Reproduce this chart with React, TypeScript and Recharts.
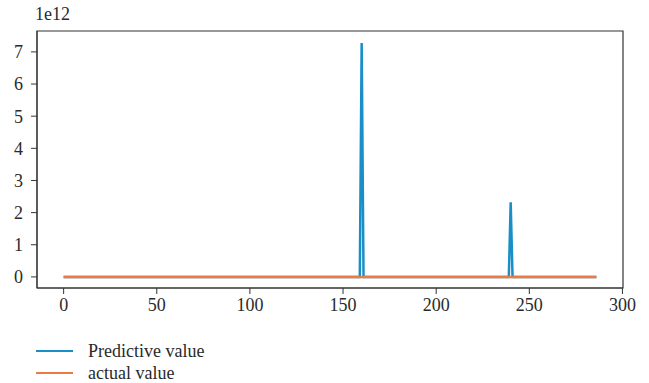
import React from "react";
import { LineChart, Line, XAxis, YAxis, ReferenceArea } from "recharts";

// Predictive values (index 0..286) (units: raw values)
const predictive: number[] = [
  0, 0, 0, 0, 0, 0, 0, 0, 0, 0, 0, 0, 0, 0, 0, 0, 0, 0, 0, 0,
  0, 0, 0, 0, 0, 0, 0, 0, 0, 0, 0, 0, 0, 0, 0, 0, 0, 0, 0, 0,
  0, 0, 0, 0, 0, 0, 0, 0, 0, 0, 0, 0, 0, 0, 0, 0, 0, 0, 0, 0,
  0, 0, 0, 0, 0, 0, 0, 0, 0, 0, 0, 0, 0, 0, 0, 0, 0, 0, 0, 0,
  0, 0, 0, 0, 0, 0, 0, 0, 0, 0, 0, 0, 0, 0, 0, 0, 0, 0, 0, 0,
  0, 0, 0, 0, 0, 0, 0, 0, 0, 0, 0, 0, 0, 0, 0, 0, 0, 0, 0, 0,
  0, 0, 0, 0, 0, 0, 0, 0, 0, 0, 0, 0, 0, 0, 0, 0, 0, 0, 0, 0,
  0, 0, 0, 0, 0, 0, 0, 0, 0, 0, 0, 0, 0, 0, 0, 0, 0, 0, 0, 0,
  7.28e12, 0, 0, 0, 0, 0, 0, 0, 0, 0, 0, 0, 0, 0, 0, 0, 0, 0, 0, 0,
  0, 0, 0, 0, 0, 0, 0, 0, 0, 0, 0, 0, 0, 0, 0, 0, 0, 0, 0, 0,
  0, 0, 0, 0, 0, 0, 0, 0, 0, 0, 0, 0, 0, 0, 0, 0, 0, 0, 0, 0,
  0, 0, 0, 0, 0, 0, 0, 0, 0, 0, 0, 0, 0, 0, 0, 0, 0, 0, 0, 0,
  2.32e12, 0, 0, 0, 0, 0, 0, 0, 0, 0, 0, 0, 0, 0, 0, 0, 0, 0, 0, 0,
  0, 0, 0, 0, 0, 0, 0, 0, 0, 0, 0, 0, 0, 0, 0, 0, 0, 0, 0, 0,
  0, 0, 0, 0, 0, 0, 0,
];

// Actual values (index 0..286) — flat at ~0 on this scale
const actual: number[] = [
  0, 0, 0, 0, 0, 0, 0, 0, 0, 0, 0, 0, 0, 0, 0, 0, 0, 0, 0, 0,
  0, 0, 0, 0, 0, 0, 0, 0, 0, 0, 0, 0, 0, 0, 0, 0, 0, 0, 0, 0,
  0, 0, 0, 0, 0, 0, 0, 0, 0, 0, 0, 0, 0, 0, 0, 0, 0, 0, 0, 0,
  0, 0, 0, 0, 0, 0, 0, 0, 0, 0, 0, 0, 0, 0, 0, 0, 0, 0, 0, 0,
  0, 0, 0, 0, 0, 0, 0, 0, 0, 0, 0, 0, 0, 0, 0, 0, 0, 0, 0, 0,
  0, 0, 0, 0, 0, 0, 0, 0, 0, 0, 0, 0, 0, 0, 0, 0, 0, 0, 0, 0,
  0, 0, 0, 0, 0, 0, 0, 0, 0, 0, 0, 0, 0, 0, 0, 0, 0, 0, 0, 0,
  0, 0, 0, 0, 0, 0, 0, 0, 0, 0, 0, 0, 0, 0, 0, 0, 0, 0, 0, 0,
  0, 0, 0, 0, 0, 0, 0, 0, 0, 0, 0, 0, 0, 0, 0, 0, 0, 0, 0, 0,
  0, 0, 0, 0, 0, 0, 0, 0, 0, 0, 0, 0, 0, 0, 0, 0, 0, 0, 0, 0,
  0, 0, 0, 0, 0, 0, 0, 0, 0, 0, 0, 0, 0, 0, 0, 0, 0, 0, 0, 0,
  0, 0, 0, 0, 0, 0, 0, 0, 0, 0, 0, 0, 0, 0, 0, 0, 0, 0, 0, 0,
  0, 0, 0, 0, 0, 0, 0, 0, 0, 0, 0, 0, 0, 0, 0, 0, 0, 0, 0, 0,
  0, 0, 0, 0, 0, 0, 0, 0, 0, 0, 0, 0, 0, 0, 0, 0, 0, 0, 0, 0,
  0, 0, 0, 0, 0, 0, 0,
];

const xTicks = [0, 50, 100, 150, 200, 250, 300];
const yTicks = [0, 1e12, 2e12, 3e12, 4e12, 5e12, 6e12, 7e12];
const seriesNames = ["Predictive value", "actual value"];
const offsetLabel = "1e12";

const BLUE = "#1a8fc7";
const ORANGE = "#ea7b42";
const FONT = "'Liberation Serif', 'Times New Roman', serif";

const data = predictive.map((p, i) => ({ idx: i, predictive: p, actual: actual[i] }));

const X_DOMAIN: [number, number] = [-14.3, 300.3];
const Y_DOMAIN: [number, number] = [-0.345e12, 7.65e12];

export default function App() {
  const tickStyle = { fontFamily: FONT, fontSize: 18, fill: "#2a2a2a" };
  return (
    <div style={{ position: "absolute", left: 0, top: 0, width: 649, height: 383, background: "#fff", fontFamily: FONT }}>
      <LineChart
        width={649}
        height={383}
        data={data}
        margin={{ top: 31, right: 26, left: 0, bottom: 60 }}
      >
        <ReferenceArea
          x1={X_DOMAIN[0]}
          x2={X_DOMAIN[1]}
          y1={Y_DOMAIN[0]}
          y2={Y_DOMAIN[1]}
          fill="none"
          stroke="#333"
          strokeWidth={1.2}
          ifOverflow="visible"
        />
        <XAxis
          dataKey="idx"
          type="number"
          domain={X_DOMAIN}
          ticks={xTicks}
          allowDataOverflow
          height={35}
          tickSize={6}
          tickMargin={4}
          tick={tickStyle}
          stroke="#333"
        />
        <YAxis
          type="number"
          domain={Y_DOMAIN}
          ticks={yTicks}
          allowDataOverflow
          width={37}
          tickSize={6}
          tickMargin={8}
          tick={tickStyle}
          stroke="#333"
          tickFormatter={(v: number) => String(Math.round(v / 1e12))}
        />
        <Line
          type="linear"
          dataKey="predictive"
          stroke={BLUE}
          strokeWidth={2.5}
          dot={false}
          isAnimationActive={false}
        />
        <Line
          type="linear"
          dataKey="actual"
          stroke={ORANGE}
          strokeWidth={2.5}
          dot={false}
          isAnimationActive={false}
        />
      </LineChart>
      <div style={{ position: "absolute", left: 35, top: 4, fontSize: 18, color: "#2a2a2a", lineHeight: "20px" }}>
        {offsetLabel}
      </div>
      <div style={{ position: "absolute", left: 36, top: 340, fontSize: 18, color: "#2a2a2a" }}>
        {seriesNames.map((name, i) => (
          <div key={name} style={{ display: "flex", alignItems: "center", height: 22 }}>
            <div style={{ width: 37, height: 0, borderTop: `2.5px solid ${i === 0 ? BLUE : ORANGE}` }} />
            <span style={{ marginLeft: 15 }}>{name}</span>
          </div>
        ))}
      </div>
    </div>
  );
}
